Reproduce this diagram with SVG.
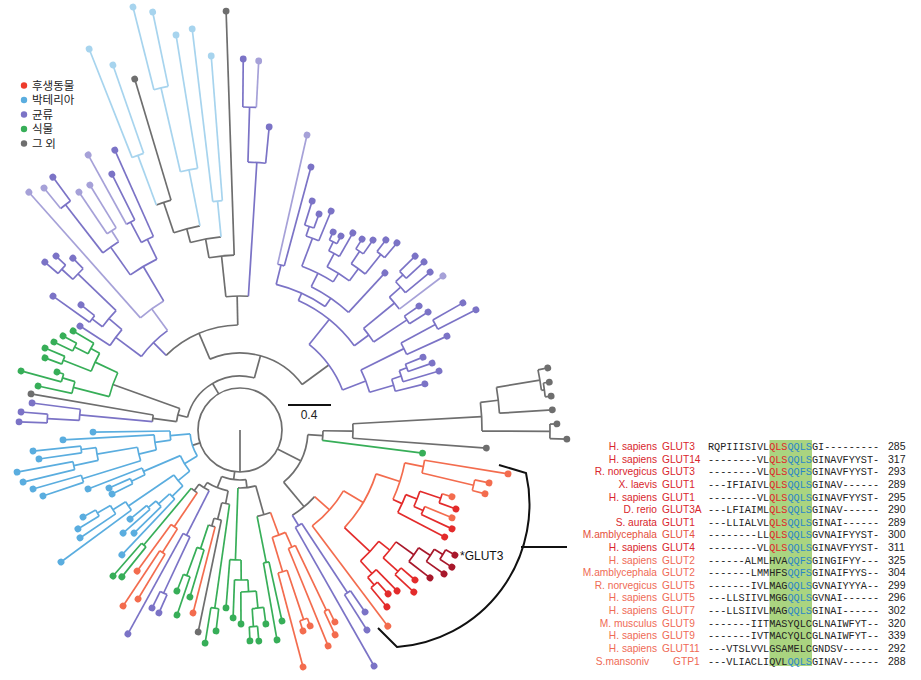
<svg xmlns="http://www.w3.org/2000/svg" width="921" height="680" viewBox="0 0 921 680">
<style>
.tr{stroke-width:1.7}
.tr path{fill:none}
.tr .a{fill:none}
.tr .d{stroke:none}
.gy{stroke:#6e6e6e;fill:#6e6e6e}
.g{stroke:#37ae58;fill:#37ae58}
.o{stroke:#f36c4e;fill:#f36c4e}
.r{stroke:#e32b2b;fill:#e32b2b}
.dr{stroke:#a8182b;fill:#a8182b}
.p{stroke:#7b73c6;fill:#7b73c6}
.lp{stroke:#a6a1d8;fill:#a6a1d8}
.bl{stroke:#5aaddf;fill:#5aaddf}
.lb{stroke:#a7d4ee;fill:#a7d4ee}
.nm{font-family:'Liberation Sans',Arial,sans-serif;font-size:10.2px}
.c1{fill:#d9262c}.c2{fill:#e5503c}.c3{fill:#ef6a55}
.sq{font-family:'Liberation Mono','DejaVu Sans Mono',monospace;font-size:10.2px;fill:#222}
.rd{fill:#e0242a}.bu{fill:#2a86c8}
.nu{font-family:'Liberation Sans',Arial,sans-serif;font-size:10.5px;fill:#222}
</style>
<rect width="921" height="680" fill="#fff"/>
<g id="legend" font-family="'Noto Sans CJK KR','Noto Sans',sans-serif" font-size="11.5" fill="#222">
<circle cx="24" cy="85.5" r="3.2" fill="#ee3b2c"/><text x="32" y="89.5">후생동물</text>
<circle cx="24" cy="100" r="3.2" fill="#5aaddf"/><text x="32" y="104">박테리아</text>
<circle cx="24" cy="114.5" r="3.2" fill="#7b73c6"/><text x="32" y="118.5">균류</text>
<circle cx="24" cy="129" r="3.2" fill="#37ae58"/><text x="32" y="133">식물</text>
<circle cx="24" cy="143.5" r="3.2" fill="#6e6e6e"/><text x="32" y="147.5">그 외</text>
</g>
<g id="tree" class="tr" transform="translate(240,430)">
<g id="backbone">
<circle class="gy a" r="42"/>
<path class="gy" d="M0 0H42" transform="rotate(90)"/>
<path class="gy" d="M42 0H68" transform="rotate(26.98)"/>
<path class="gy" d="M42 0H50" transform="rotate(97.3)"/>
<path class="gy" d="M42 0H50" transform="rotate(162.09)"/>
<path class="gy" d="M42 0H54" transform="rotate(239.5)"/>
</g>
<g id="clade-right">
<circle class="gy a" r="68" pathLength="360" stroke-dasharray="46.24 360" transform="rotate(3.86)"/>
<path class="gy" d="M68 0H83" transform="rotate(3.86)"/>
<path class="gy" d="M68 0H100" transform="rotate(50.1)"/>
<circle class="gy a" r="83" pathLength="360" stroke-dasharray="6.68 360" transform="rotate(0.52)"/>
<path class="gy" d="M83 0H113" transform="rotate(0.52)"/>
<g class="g" transform="rotate(7.2)"><path d="M83 0H184"/><circle class="d" cx="184" r="3.4"/></g>
<circle class="gy a" r="113" pathLength="360" stroke-dasharray="7.36 360" transform="rotate(-3.16)"/>
<path class="gy" d="M113 0H242" transform="rotate(-3.16)"/>
<g class="gy" transform="rotate(4.2)"><path d="M113 0H247"/><circle class="d" cx="247" r="3.4"/></g>
<circle class="gy a" r="242" pathLength="360" stroke-dasharray="6.825 360" transform="rotate(-6.575)"/>
<path class="gy" d="M242 0H260" transform="rotate(-6.575)"/>
<path class="gy" d="M242 0H310" transform="rotate(0.25)"/>
<circle class="gy a" r="260" pathLength="360" stroke-dasharray="5.75 360" transform="rotate(-9.45)"/>
<path class="gy" d="M260 0H304" transform="rotate(-9.45)"/>
<g class="gy" transform="rotate(-3.7)"><path d="M260 0H313"/><circle class="d" cx="313" r="3.4"/></g>
<circle class="gy a" r="304" pathLength="360" stroke-dasharray="3.9 360" transform="rotate(-11.4)"/>
<g class="gy" transform="rotate(-11.4)"><path d="M304 0H314"/><circle class="d" cx="314" r="3.4"/></g>
<path class="gy" d="M304 0H307" transform="rotate(-7.5)"/>
<circle class="gy a" r="307" pathLength="360" stroke-dasharray="2.6 360" transform="rotate(-8.8)"/>
<g class="gy" transform="rotate(-8.8)"><path d="M307 0H313"/><circle class="d" cx="313" r="3.4"/></g>
<g class="gy" transform="rotate(-6.2)"><path d="M307 0H313"/><circle class="d" cx="313" r="3.4"/></g>
<circle class="gy a" r="310" pathLength="360" stroke-dasharray="2.7 360" transform="rotate(-1.1)"/>
<g class="gy" transform="rotate(-1.1)"><path d="M310 0H317"/><circle class="d" cx="317" r="3.4"/></g>
<g class="gy" transform="rotate(1.6)"><path d="M310 0H327"/><circle class="d" cx="327" r="3.4"/></g>
</g>
<g id="clade-animal">
<circle class="gy a" r="100" pathLength="360" stroke-dasharray="16.75 360" transform="rotate(41.73)"/>
<path class="o" d="M100 0H120" transform="rotate(41.73)"/>
<path class="p" d="M100 0H112" transform="rotate(58.48)"/>
<circle class="o a" r="120" pathLength="360" stroke-dasharray="22.53 360" transform="rotate(30.47)"/>
<path class="o" d="M120 0H143" transform="rotate(30.47)"/>
<g class="o" transform="rotate(53)"><path d="M120 0H245.6"/><circle class="d" cx="245.6" r="3.4"/></g>
<circle class="o a" r="143" pathLength="360" stroke-dasharray="25.19 360" transform="rotate(17.87)"/>
<path class="o" d="M143 0H168" transform="rotate(17.87)"/>
<path class="r" d="M143 0H178" transform="rotate(43.06)"/>
<circle class="o a" r="168" pathLength="360" stroke-dasharray="13.14 360" transform="rotate(11.3)"/>
<path class="o" d="M168 0H187" transform="rotate(11.3)"/>
<path class="r" d="M168 0H178" transform="rotate(24.44)"/>
<circle class="o a" r="187" pathLength="360" stroke-dasharray="4 360" transform="rotate(9.3)"/>
<g class="o" transform="rotate(9.3)"><path d="M187 0H271.6"/><circle class="d" cx="271.6" r="3.4"/></g>
<path class="o" d="M187 0H240" transform="rotate(13.3)"/>
<circle class="o a" r="240" pathLength="360" stroke-dasharray="2.6 360" transform="rotate(12)"/>
<g class="o" transform="rotate(12)"><path d="M240 0H254.6"/><circle class="d" cx="254.6" r="3.4"/></g>
<g class="o" transform="rotate(14.6)"><path d="M240 0H253.2"/><circle class="d" cx="253.2" r="3.4"/></g>
<circle class="r a" r="178" pathLength="360" stroke-dasharray="6.325 360" transform="rotate(21.275)"/>
<path class="r" d="M178 0H190" transform="rotate(21.275)"/>
<g class="r" transform="rotate(27.6)"><path d="M178 0H231"/><circle class="d" cx="231" r="3.4"/></g>
<circle class="r a" r="190" pathLength="360" stroke-dasharray="4.95 360" transform="rotate(18.8)"/>
<path class="r" d="M190 0H212" transform="rotate(18.8)"/>
<path class="r" d="M190 0H200" transform="rotate(23.75)"/>
<circle class="r a" r="212" pathLength="360" stroke-dasharray="2.6 360" transform="rotate(17.5)"/>
<g class="o" transform="rotate(17.5)"><path d="M212 0H222.3"/><circle class="d" cx="222.3" r="3.4"/></g>
<g class="r" transform="rotate(20.1)"><path d="M212 0H230"/><circle class="d" cx="230" r="3.4"/></g>
<circle class="r a" r="200" pathLength="360" stroke-dasharray="2.5 360" transform="rotate(22.5)"/>
<g class="o" transform="rotate(22.5)"><path d="M200 0H229.5"/><circle class="d" cx="229.5" r="3.4"/></g>
<g class="r" transform="rotate(25)"><path d="M200 0H234"/><circle class="d" cx="234" r="3.4"/></g>
<circle class="r a" r="178" pathLength="360" stroke-dasharray="8.68 360" transform="rotate(38.72)"/>
<path class="r" d="M178 0H192" transform="rotate(38.72)"/>
<path class="r" d="M178 0H195" transform="rotate(47.4)"/>
<circle class="r a" r="192" pathLength="360" stroke-dasharray="6.16 360" transform="rotate(35.64)"/>
<path class="dr" d="M192 0H214" transform="rotate(35.64)"/>
<path class="r" d="M192 0H212" transform="rotate(41.8)"/>
<circle class="dr a" r="214" pathLength="360" stroke-dasharray="4.525 360" transform="rotate(33.375)"/>
<path class="dr" d="M214 0H228" transform="rotate(33.375)"/>
<g class="dr" transform="rotate(37.9)"><path d="M214 0H240.8"/><circle class="d" cx="240.8" r="3.4"/></g>
<circle class="dr a" r="228" pathLength="360" stroke-dasharray="3.65 360" transform="rotate(31.55)"/>
<path class="dr" d="M228 0H238" transform="rotate(31.55)"/>
<g class="dr" transform="rotate(35.2)"><path d="M228 0H249.7"/><circle class="d" cx="249.7" r="3.4"/></g>
<circle class="dr a" r="238" pathLength="360" stroke-dasharray="2.7 360" transform="rotate(30.2)"/>
<g class="dr" transform="rotate(30.2)"><path d="M238 0H248.7"/><circle class="d" cx="248.7" r="3.4"/></g>
<g class="dr" transform="rotate(32.9)"><path d="M238 0H252.4"/><circle class="d" cx="252.4" r="3.4"/></g>
<circle class="r a" r="212" pathLength="360" stroke-dasharray="2.4 360" transform="rotate(40.6)"/>
<g class="r" transform="rotate(40.6)"><path d="M212 0H230.5"/><circle class="d" cx="230.5" r="3.4"/></g>
<g class="r" transform="rotate(43)"><path d="M212 0H237.7"/><circle class="d" cx="237.7" r="3.4"/></g>
<circle class="r a" r="195" pathLength="360" stroke-dasharray="3.4 360" transform="rotate(45.7)"/>
<g class="r" transform="rotate(45.7)"><path d="M195 0H224.9"/><circle class="d" cx="224.9" r="3.4"/></g>
<path class="r" d="M195 0H205" transform="rotate(49.1)"/>
<circle class="r a" r="205" pathLength="360" stroke-dasharray="2.4 360" transform="rotate(47.9)"/>
<g class="r" transform="rotate(47.9)"><path d="M205 0H220.9"/><circle class="d" cx="220.9" r="3.4"/></g>
<g class="r" transform="rotate(50.3)"><path d="M205 0H230"/><circle class="d" cx="230" r="3.4"/></g>
<circle class="p a" r="112" pathLength="360" stroke-dasharray="3.85 360" transform="rotate(56.55)"/>
<path class="p" d="M112 0H195" transform="rotate(56.55)"/>
<g class="p" transform="rotate(60.4)"><path d="M112 0H271.4"/><circle class="d" cx="271.4" r="3.4"/></g>
<circle class="p a" r="195" pathLength="360" stroke-dasharray="2.1 360" transform="rotate(55.5)"/>
<g class="p" transform="rotate(55.5)"><path d="M195 0H220.8"/><circle class="d" cx="220.8" r="3.4"/></g>
<g class="p" transform="rotate(57.6)"><path d="M195 0H236.9"/><circle class="d" cx="236.9" r="3.4"/></g>
</g>
<g id="clade-bottom">
<circle class="gy a" r="50" pathLength="360" stroke-dasharray="28.37 360" transform="rotate(83.13)"/>
<path class="gy" d="M50 0H58" transform="rotate(83.13)"/>
<path class="gy" d="M50 0H62" transform="rotate(111.5)"/>
<circle class="gy a" r="58" pathLength="360" stroke-dasharray="17.77 360" transform="rotate(74.25)"/>
<path class="gy" d="M58 0H88" transform="rotate(74.25)"/>
<path class="g" d="M58 0H130" transform="rotate(92.02)"/>
<circle class="gy a" r="88" pathLength="360" stroke-dasharray="9.11 360" transform="rotate(69.69)"/>
<path class="o" d="M88 0H112" transform="rotate(69.69)"/>
<path class="g" d="M88 0H135" transform="rotate(78.8)"/>
<circle class="o a" r="112" pathLength="360" stroke-dasharray="7.175 360" transform="rotate(66.1)"/>
<path class="o" d="M112 0H128" transform="rotate(66.1)"/>
<path class="o" d="M112 0H148" transform="rotate(73.275)"/>
<circle class="o a" r="128" pathLength="360" stroke-dasharray="3.4 360" transform="rotate(64.4)"/>
<path class="o" d="M128 0H200" transform="rotate(64.4)"/>
<g class="o" transform="rotate(67.8)"><path d="M128 0H233.2"/><circle class="d" cx="233.2" r="3.4"/></g>
<circle class="o a" r="200" pathLength="360" stroke-dasharray="1.4 360" transform="rotate(63.7)"/>
<g class="o" transform="rotate(63.7)"><path d="M200 0H214.2"/><circle class="d" cx="214.2" r="3.4"/></g>
<g class="o" transform="rotate(65.1)"><path d="M200 0H225.9"/><circle class="d" cx="225.9" r="3.4"/></g>
<circle class="o a" r="148" pathLength="360" stroke-dasharray="3.65 360" transform="rotate(71.45)"/>
<path class="o" d="M148 0H200" transform="rotate(71.45)"/>
<g class="o" transform="rotate(75.1)"><path d="M148 0H245.2"/><circle class="d" cx="245.2" r="3.4"/></g>
<circle class="o a" r="200" pathLength="360" stroke-dasharray="2.3 360" transform="rotate(70.3)"/>
<g class="o" transform="rotate(70.3)"><path d="M200 0H208.1"/><circle class="d" cx="208.1" r="3.4"/></g>
<g class="o" transform="rotate(72.6)"><path d="M200 0H210.6"/><circle class="d" cx="210.6" r="3.4"/></g>
<circle class="g a" r="135" pathLength="360" stroke-dasharray="2.4 360" transform="rotate(77.6)"/>
<g class="g" transform="rotate(77.6)"><path d="M135 0H195.6"/><circle class="d" cx="195.6" r="3.4"/></g>
<g class="g" transform="rotate(80)"><path d="M135 0H213.2"/><circle class="d" cx="213.2" r="3.4"/></g>
<circle class="g a" r="130" pathLength="360" stroke-dasharray="4.96 360" transform="rotate(89.54)"/>
<path class="g" d="M130 0H150" transform="rotate(89.54)"/>
<g class="g" transform="rotate(94.5)"><path d="M130 0H178.5"/><circle class="d" cx="178.5" r="3.4"/></g>
<circle class="g a" r="150" pathLength="360" stroke-dasharray="5.125 360" transform="rotate(86.975)"/>
<path class="g" d="M150 0H162" transform="rotate(86.975)"/>
<g class="g" transform="rotate(92.1)"><path d="M150 0H188.1"/><circle class="d" cx="188.1" r="3.4"/></g>
<circle class="g a" r="162" pathLength="360" stroke-dasharray="5.45 360" transform="rotate(84.25)"/>
<path class="g" d="M162 0H179" transform="rotate(84.25)"/>
<g class="g" transform="rotate(89.7)"><path d="M162 0H194"/><circle class="d" cx="194" r="3.4"/></g>
<circle class="g a" r="179" pathLength="360" stroke-dasharray="3.7 360" transform="rotate(82.4)"/>
<g class="g" transform="rotate(82.4)"><path d="M179 0H195.7"/><circle class="d" cx="195.7" r="3.4"/></g>
<path class="g" d="M179 0H197" transform="rotate(86.1)"/>
<circle class="g a" r="197" pathLength="360" stroke-dasharray="2.4 360" transform="rotate(84.9)"/>
<g class="g" transform="rotate(84.9)"><path d="M197 0H211.9"/><circle class="d" cx="211.9" r="3.4"/></g>
<g class="g" transform="rotate(87.3)"><path d="M197 0H211.2"/><circle class="d" cx="211.2" r="3.4"/></g>
<circle class="gy a" r="62" pathLength="360" stroke-dasharray="20.95 360" transform="rotate(101.05)"/>
<path class="gy" d="M62 0H75" transform="rotate(101.05)"/>
<path class="gy" d="M62 0H68" transform="rotate(122)"/>
<circle class="gy a" r="75" pathLength="360" stroke-dasharray="6 360" transform="rotate(98.05)"/>
<path class="g" d="M75 0H180" transform="rotate(98.05)"/>
<path class="gy" d="M75 0H92" transform="rotate(104.05)"/>
<circle class="g a" r="180" pathLength="360" stroke-dasharray="2.5 360" transform="rotate(96.8)"/>
<g class="g" transform="rotate(96.8)"><path d="M180 0H202.4"/><circle class="d" cx="202.4" r="3.4"/></g>
<g class="g" transform="rotate(99.3)"><path d="M180 0H215.9"/><circle class="d" cx="215.9" r="3.4"/></g>
<circle class="gy a" r="92" pathLength="360" stroke-dasharray="4.7 360" transform="rotate(101.7)"/>
<g class="gy" transform="rotate(101.7)"><path d="M92 0H206.3"/><circle class="d" cx="206.3" r="3.4"/></g>
<path class="gy" d="M92 0H100" transform="rotate(106.4)"/>
<circle class="gy a" r="100" pathLength="360" stroke-dasharray="4 360" transform="rotate(104.4)"/>
<g class="o" transform="rotate(104.4)"><path d="M100 0H188.9"/><circle class="d" cx="188.9" r="3.4"/></g>
<path class="g" d="M100 0H125" transform="rotate(108.4)"/>
<circle class="g a" r="125" pathLength="360" stroke-dasharray="3.4 360" transform="rotate(106.7)"/>
<g class="g" transform="rotate(106.7)"><path d="M125 0H174.3"/><circle class="d" cx="174.3" r="3.4"/></g>
<path class="g" d="M125 0H155" transform="rotate(110.1)"/>
<circle class="g a" r="155" pathLength="360" stroke-dasharray="2.6 360" transform="rotate(108.8)"/>
<g class="g" transform="rotate(108.8)"><path d="M155 0H195.4"/><circle class="d" cx="195.4" r="3.4"/></g>
<g class="g" transform="rotate(111.4)"><path d="M155 0H172.9"/><circle class="d" cx="172.9" r="3.4"/></g>
<circle class="gy a" r="68" pathLength="360" stroke-dasharray="10.11 360" transform="rotate(116.95)"/>
<path class="p" d="M68 0H118" transform="rotate(116.95)"/>
<path class="gy" d="M68 0H76" transform="rotate(127.06)"/>
<circle class="p a" r="118" pathLength="360" stroke-dasharray="3.7 360" transform="rotate(115.1)"/>
<path class="p" d="M118 0H180" transform="rotate(115.1)"/>
<g class="p" transform="rotate(118.8)"><path d="M118 0H232.7"/><circle class="d" cx="232.7" r="3.4"/></g>
<circle class="p a" r="180" pathLength="360" stroke-dasharray="2.4 360" transform="rotate(113.9)"/>
<g class="p" transform="rotate(113.9)"><path d="M180 0H200.1"/><circle class="d" cx="200.1" r="3.4"/></g>
<g class="p" transform="rotate(116.3)"><path d="M180 0H198.6"/><circle class="d" cx="198.6" r="3.4"/></g>
<circle class="gy a" r="76" pathLength="360" stroke-dasharray="5.67 360" transform="rotate(124.23)"/>
<path class="o" d="M76 0H117" transform="rotate(124.23)"/>
<path class="g" d="M76 0H150" transform="rotate(129.9)"/>
<circle class="o a" r="117" pathLength="360" stroke-dasharray="3.75 360" transform="rotate(122.35)"/>
<path class="o" d="M117 0H145" transform="rotate(122.35)"/>
<g class="o" transform="rotate(126.1)"><path d="M117 0H174.6"/><circle class="d" cx="174.6" r="3.4"/></g>
<circle class="o a" r="145" pathLength="360" stroke-dasharray="2.5 360" transform="rotate(121.1)"/>
<g class="o" transform="rotate(121.1)"><path d="M145 0H197.4"/><circle class="d" cx="197.4" r="3.4"/></g>
<g class="o" transform="rotate(123.6)"><path d="M145 0H211.3"/><circle class="d" cx="211.3" r="3.4"/></g>
<circle class="g a" r="150" pathLength="360" stroke-dasharray="2.2 360" transform="rotate(128.8)"/>
<g class="g" transform="rotate(128.8)"><path d="M150 0H188.5"/><circle class="d" cx="188.5" r="3.4"/></g>
<g class="g" transform="rotate(131)"><path d="M150 0H193.5"/><circle class="d" cx="193.5" r="3.4"/></g>
</g>
<g id="clade-bacteria">
<circle class="bl a" r="50" pathLength="360" stroke-dasharray="26.72 360" transform="rotate(148.73)"/>
<path class="bl" d="M50 0H65" transform="rotate(148.73)"/>
<path class="bl" d="M50 0H70" transform="rotate(175.45)"/>
<circle class="bl a" r="65" pathLength="360" stroke-dasharray="16.1 360" transform="rotate(140.68)"/>
<path class="bl" d="M65 0H80" transform="rotate(140.68)"/>
<path class="bl" d="M65 0H105" transform="rotate(156.78)"/>
<circle class="bl a" r="80" pathLength="360" stroke-dasharray="10.15 360" transform="rotate(135.6)"/>
<path class="bl" d="M80 0H95" transform="rotate(135.6)"/>
<path class="bl" d="M80 0H135" transform="rotate(145.75)"/>
<circle class="bl a" r="95" pathLength="360" stroke-dasharray="4.4 360" transform="rotate(133.4)"/>
<g class="bl" transform="rotate(133.4)"><path d="M95 0H171.9"/><circle class="d" cx="171.9" r="3.4"/></g>
<path class="bl" d="M95 0H110" transform="rotate(137.8)"/>
<circle class="bl a" r="110" pathLength="360" stroke-dasharray="4 360" transform="rotate(135.8)"/>
<g class="bl" transform="rotate(135.8)"><path d="M110 0H147.8"/><circle class="d" cx="147.8" r="3.4"/></g>
<path class="bl" d="M110 0H120" transform="rotate(139.8)"/>
<circle class="bl a" r="120" pathLength="360" stroke-dasharray="2.4 360" transform="rotate(138.6)"/>
<g class="bl" transform="rotate(138.6)"><path d="M120 0H155.9"/><circle class="d" cx="155.9" r="3.4"/></g>
<g class="bl" transform="rotate(141)"><path d="M120 0H141.5"/><circle class="d" cx="141.5" r="3.4"/></g>
<circle class="bl a" r="135" pathLength="360" stroke-dasharray="4.3 360" transform="rotate(143.6)"/>
<g class="bl" transform="rotate(143.6)"><path d="M135 0H222.4"/><circle class="d" cx="222.4" r="3.4"/></g>
<path class="bl" d="M135 0H150" transform="rotate(147.9)"/>
<circle class="bl a" r="150" pathLength="360" stroke-dasharray="3.8 360" transform="rotate(146)"/>
<g class="bl" transform="rotate(146)"><path d="M150 0H193"/><circle class="d" cx="193" r="3.4"/></g>
<path class="bl" d="M150 0H165" transform="rotate(149.8)"/>
<circle class="bl a" r="165" pathLength="360" stroke-dasharray="2.4 360" transform="rotate(148.6)"/>
<g class="bl" transform="rotate(148.6)"><path d="M165 0H189.9"/><circle class="d" cx="189.9" r="3.4"/></g>
<g class="bl" transform="rotate(151)"><path d="M165 0H179.5"/><circle class="d" cx="179.5" r="3.4"/></g>
<circle class="bl a" r="105" pathLength="360" stroke-dasharray="4.05 360" transform="rotate(154.75)"/>
<path class="bl" d="M105 0H120" transform="rotate(154.75)"/>
<g class="bl" transform="rotate(158.8)"><path d="M105 0H163"/><circle class="d" cx="163" r="3.4"/></g>
<circle class="bl a" r="120" pathLength="360" stroke-dasharray="2.7 360" transform="rotate(153.4)"/>
<g class="bl" transform="rotate(153.4)"><path d="M120 0H143.1"/><circle class="d" cx="143.1" r="3.4"/></g>
<g class="bl" transform="rotate(156.1)"><path d="M120 0H143.3"/><circle class="d" cx="143.3" r="3.4"/></g>
<circle class="bl a" r="70" pathLength="360" stroke-dasharray="7.5 360" transform="rotate(171.7)"/>
<path class="bl" d="M70 0H86" transform="rotate(171.7)"/>
<g class="bl" transform="rotate(179.2)"><path d="M70 0H147"/><circle class="d" cx="147" r="3.4"/></g>
<circle class="bl a" r="86" pathLength="360" stroke-dasharray="10.17 360" transform="rotate(166.63)"/>
<path class="bl" d="M86 0H104" transform="rotate(166.63)"/>
<g class="bl" transform="rotate(176.8)"><path d="M86 0H177.3"/><circle class="d" cx="177.3" r="3.4"/></g>
<circle class="bl a" r="104" pathLength="360" stroke-dasharray="7.65 360" transform="rotate(162.8)"/>
<path class="bl" d="M104 0H165" transform="rotate(162.8)"/>
<path class="bl" d="M104 0H145" transform="rotate(170.45)"/>
<circle class="bl a" r="165" pathLength="360" stroke-dasharray="2.6 360" transform="rotate(161.5)"/>
<g class="bl" transform="rotate(161.5)"><path d="M165 0H207.8"/><circle class="d" cx="207.8" r="3.4"/></g>
<g class="bl" transform="rotate(164.1)"><path d="M165 0H215.2"/><circle class="d" cx="215.2" r="3.4"/></g>
<circle class="bl a" r="145" pathLength="360" stroke-dasharray="5.1 360" transform="rotate(167.9)"/>
<path class="bl" d="M145 0H170" transform="rotate(167.9)"/>
<path class="bl" d="M145 0H160" transform="rotate(173)"/>
<circle class="bl a" r="170" pathLength="360" stroke-dasharray="2.8 360" transform="rotate(166.5)"/>
<g class="bl" transform="rotate(166.5)"><path d="M170 0H223.1"/><circle class="d" cx="223.1" r="3.4"/></g>
<g class="bl" transform="rotate(169.3)"><path d="M170 0H226.9"/><circle class="d" cx="226.9" r="3.4"/></g>
<circle class="bl a" r="160" pathLength="360" stroke-dasharray="2.4 360" transform="rotate(171.8)"/>
<g class="bl" transform="rotate(171.8)"><path d="M160 0H203.1"/><circle class="d" cx="203.1" r="3.4"/></g>
<g class="bl" transform="rotate(174.2)"><path d="M160 0H208.1"/><circle class="d" cx="208.1" r="3.4"/></g>
</g>
<g id="clade-left">
<circle class="gy a" r="54" pathLength="360" stroke-dasharray="91.77 360" transform="rotate(193.65)"/>
<path class="gy" d="M54 0H64" transform="rotate(193.65)"/>
<path class="gy" d="M54 0H77" transform="rotate(285.42)"/>
<circle class="gy a" r="64" pathLength="360" stroke-dasharray="12.1 360" transform="rotate(187.6)"/>
<path class="gy" d="M64 0H88" transform="rotate(187.6)"/>
<path class="gy" d="M64 0H135" transform="rotate(199.7)"/>
<circle class="gy a" r="88" pathLength="360" stroke-dasharray="4.4 360" transform="rotate(185.4)"/>
<path class="p" d="M88 0H161" transform="rotate(185.4)"/>
<g class="gy" transform="rotate(189.8)"><path d="M88 0H212.1"/><circle class="d" cx="212.1" r="3.4"/></g>
<circle class="p a" r="161" pathLength="360" stroke-dasharray="4 360" transform="rotate(183.4)"/>
<path class="p" d="M161 0H193" transform="rotate(183.4)"/>
<g class="p" transform="rotate(187.4)"><path d="M161 0H209.7"/><circle class="d" cx="209.7" r="3.4"/></g>
<circle class="p a" r="193" pathLength="360" stroke-dasharray="2.6 360" transform="rotate(182.1)"/>
<g class="p" transform="rotate(182.1)"><path d="M193 0H221.1"/><circle class="d" cx="221.1" r="3.4"/></g>
<g class="p" transform="rotate(184.7)"><path d="M193 0H219.7"/><circle class="d" cx="219.7" r="3.4"/></g>
<circle class="g a" r="135" pathLength="360" stroke-dasharray="10.77 360" transform="rotate(194.33)"/>
<path class="g" d="M135 0H172" transform="rotate(194.33)"/>
<path class="g" d="M135 0H160" transform="rotate(205.1)"/>
<circle class="g a" r="172" pathLength="360" stroke-dasharray="4.05 360" transform="rotate(192.3)"/>
<g class="g" transform="rotate(192.3)"><path d="M172 0H206.7"/><circle class="d" cx="206.7" r="3.4"/></g>
<path class="g" d="M172 0H185" transform="rotate(196.35)"/>
<circle class="g a" r="185" pathLength="360" stroke-dasharray="2.5 360" transform="rotate(195.1)"/>
<g class="g" transform="rotate(195.1)"><path d="M185 0H226.8"/><circle class="d" cx="226.8" r="3.4"/></g>
<g class="g" transform="rotate(197.6)"><path d="M185 0H192"/><circle class="d" cx="192" r="3.4"/></g>
<circle class="g a" r="160" pathLength="360" stroke-dasharray="7.13 360" transform="rotate(201.55)"/>
<path class="g" d="M160 0H190" transform="rotate(201.55)"/>
<path class="g" d="M160 0H170" transform="rotate(208.68)"/>
<circle class="g a" r="190" pathLength="360" stroke-dasharray="2.5 360" transform="rotate(200.3)"/>
<g class="g" transform="rotate(200.3)"><path d="M190 0H207.9"/><circle class="d" cx="207.9" r="3.4"/></g>
<g class="g" transform="rotate(202.8)"><path d="M190 0H211.5"/><circle class="d" cx="211.5" r="3.4"/></g>
<circle class="g a" r="170" pathLength="360" stroke-dasharray="4.05 360" transform="rotate(206.65)"/>
<path class="g" d="M170 0H185" transform="rotate(206.65)"/>
<g class="g" transform="rotate(210.7)"><path d="M170 0H194.1"/><circle class="d" cx="194.1" r="3.4"/></g>
<circle class="g a" r="185" pathLength="360" stroke-dasharray="2.7 360" transform="rotate(205.3)"/>
<g class="g" transform="rotate(205.3)"><path d="M185 0H205.8"/><circle class="d" cx="205.8" r="3.4"/></g>
<g class="g" transform="rotate(208)"><path d="M185 0H200.4"/><circle class="d" cx="200.4" r="3.4"/></g>
</g>
<g id="clade-upper-left">
<circle class="gy a" r="77" pathLength="360" stroke-dasharray="76.76 360" transform="rotate(247.04)"/>
<path class="gy" d="M77 0H105" transform="rotate(247.04)"/>
<path class="gy" d="M77 0H110" transform="rotate(323.8)"/>
<circle class="gy a" r="105" pathLength="360" stroke-dasharray="43.48 360" transform="rotate(225.3)"/>
<path class="p" d="M105 0H123" transform="rotate(225.3)"/>
<path class="gy" d="M105 0H134" transform="rotate(268.78)"/>
<circle class="p a" r="123" pathLength="360" stroke-dasharray="17.2 360" transform="rotate(216.7)"/>
<path class="p" d="M123 0H155" transform="rotate(216.7)"/>
<path class="lp" d="M123 0H150" transform="rotate(233.9)"/>
<circle class="p a" r="155" pathLength="360" stroke-dasharray="7.4 360" transform="rotate(213)"/>
<g class="p" transform="rotate(213)"><path d="M155 0H190.8"/><circle class="d" cx="190.8" r="3.4"/></g>
<path class="p" d="M155 0H172" transform="rotate(220.4)"/>
<circle class="p a" r="172" pathLength="360" stroke-dasharray="7.03 360" transform="rotate(216.9)"/>
<path class="p" d="M172 0H185" transform="rotate(216.9)"/>
<path class="p" d="M172 0H225" transform="rotate(223.93)"/>
<circle class="p a" r="185" pathLength="360" stroke-dasharray="2.6 360" transform="rotate(215.6)"/>
<g class="p" transform="rotate(215.6)"><path d="M185 0H230"/><circle class="d" cx="230" r="3.4"/></g>
<g class="p" transform="rotate(218.2)"><path d="M185 0H202.3"/><circle class="d" cx="202.3" r="3.4"/></g>
<circle class="p a" r="225" pathLength="360" stroke-dasharray="3.75 360" transform="rotate(222.05)"/>
<path class="p" d="M225 0H240" transform="rotate(222.05)"/>
<g class="p" transform="rotate(225.8)"><path d="M225 0H239.7"/><circle class="d" cx="239.7" r="3.4"/></g>
<circle class="p a" r="240" pathLength="360" stroke-dasharray="2.7 360" transform="rotate(220.7)"/>
<g class="p" transform="rotate(220.7)"><path d="M240 0H257.4"/><circle class="d" cx="257.4" r="3.4"/></g>
<g class="p" transform="rotate(223.4)"><path d="M240 0H253.2"/><circle class="d" cx="253.2" r="3.4"/></g>
<circle class="lp a" r="150" pathLength="360" stroke-dasharray="11 360" transform="rotate(228.4)"/>
<g class="lp" transform="rotate(228.4)"><path d="M150 0H318"/><circle class="d" cx="318" r="3.4"/></g>
<path class="p" d="M150 0H190" transform="rotate(239.4)"/>
<circle class="p a" r="190" pathLength="360" stroke-dasharray="9.35 360" transform="rotate(234.73)"/>
<path class="p" d="M190 0H224" transform="rotate(234.73)"/>
<path class="p" d="M190 0H212" transform="rotate(244.08)"/>
<circle class="p a" r="224" pathLength="360" stroke-dasharray="4.95 360" transform="rotate(232.25)"/>
<path class="p" d="M224 0H285" transform="rotate(232.25)"/>
<path class="lp" d="M224 0H237" transform="rotate(237.2)"/>
<circle class="p a" r="285" pathLength="360" stroke-dasharray="2.5 360" transform="rotate(231)"/>
<g class="lp" transform="rotate(231)"><path d="M285 0H311.4"/><circle class="d" cx="311.4" r="3.4"/></g>
<g class="p" transform="rotate(233.5)"><path d="M285 0H314.6"/><circle class="d" cx="314.6" r="3.4"/></g>
<circle class="lp a" r="237" pathLength="360" stroke-dasharray="2.6 360" transform="rotate(235.9)"/>
<g class="lp" transform="rotate(235.9)"><path d="M237 0H287.3"/><circle class="d" cx="287.3" r="3.4"/></g>
<g class="lp" transform="rotate(238.5)"><path d="M237 0H287.3"/><circle class="d" cx="287.3" r="3.4"/></g>
<circle class="p a" r="212" pathLength="360" stroke-dasharray="3.65 360" transform="rotate(242.25)"/>
<path class="p" d="M212 0H235" transform="rotate(242.25)"/>
<g class="p" transform="rotate(245.9)"><path d="M212 0H306.6"/><circle class="d" cx="306.6" r="3.4"/></g>
<circle class="p a" r="235" pathLength="360" stroke-dasharray="2.3 360" transform="rotate(241.1)"/>
<g class="lp" transform="rotate(241.1)"><path d="M235 0H314.2"/><circle class="d" cx="314.2" r="3.4"/></g>
<g class="p" transform="rotate(243.4)"><path d="M235 0H286.2"/><circle class="d" cx="286.2" r="3.4"/></g>
</g>
<g id="clade-top">
<circle class="gy a" r="134" pathLength="360" stroke-dasharray="9.65 360" transform="rotate(263.95)"/>
<path class="gy" d="M134 0H175" transform="rotate(263.95)"/>
<path class="p" d="M134 0H268" transform="rotate(273.6)"/>
<circle class="gy a" r="175" pathLength="360" stroke-dasharray="8.31 360" transform="rotate(259.79)"/>
<path class="gy" d="M175 0H194" transform="rotate(259.79)"/>
<g class="gy" transform="rotate(268.1)"><path d="M175 0H419.2"/><circle class="d" cx="419.2" r="3.4"/></g>
<circle class="gy a" r="194" pathLength="360" stroke-dasharray="9.22 360" transform="rotate(255.18)"/>
<path class="gy" d="M194 0H208" transform="rotate(255.18)"/>
<path class="lb" d="M194 0H230" transform="rotate(264.4)"/>
<circle class="gy a" r="208" pathLength="360" stroke-dasharray="7.45 360" transform="rotate(251.45)"/>
<path class="gy" d="M208 0H240" transform="rotate(251.45)"/>
<path class="lb" d="M208 0H265" transform="rotate(258.9)"/>
<circle class="gy a" r="240" pathLength="360" stroke-dasharray="3.7 360" transform="rotate(249.6)"/>
<path class="lb" d="M240 0H293" transform="rotate(249.6)"/>
<g class="gy" transform="rotate(253.3)"><path d="M240 0H366.4"/><circle class="d" cx="366.4" r="3.4"/></g>
<circle class="lb a" r="293" pathLength="360" stroke-dasharray="2.4 360" transform="rotate(248.4)"/>
<g class="lb" transform="rotate(248.4)"><path d="M293 0H409.8"/><circle class="d" cx="409.8" r="3.4"/></g>
<g class="lb" transform="rotate(250.8)"><path d="M293 0H386.5"/><circle class="d" cx="386.5" r="3.4"/></g>
<circle class="lb a" r="265" pathLength="360" stroke-dasharray="3.8 360" transform="rotate(257)"/>
<path class="lb" d="M265 0H351" transform="rotate(257)"/>
<g class="lb" transform="rotate(260.8)"><path d="M265 0H400.2"/><circle class="d" cx="400.2" r="3.4"/></g>
<circle class="lb a" r="351" pathLength="360" stroke-dasharray="2.4 360" transform="rotate(255.8)"/>
<g class="lb" transform="rotate(255.8)"><path d="M351 0H436.3"/><circle class="d" cx="436.3" r="3.4"/></g>
<g class="lb" transform="rotate(258.2)"><path d="M351 0H427"/><circle class="d" cx="427" r="3.4"/></g>
<circle class="lb a" r="230" pathLength="360" stroke-dasharray="2.4 360" transform="rotate(263.2)"/>
<g class="lb" transform="rotate(263.2)"><path d="M230 0H403.9"/><circle class="d" cx="403.9" r="3.4"/></g>
<g class="lb" transform="rotate(265.6)"><path d="M230 0H375.1"/><circle class="d" cx="375.1" r="3.4"/></g>
<circle class="p a" r="268" pathLength="360" stroke-dasharray="3.8 360" transform="rotate(271.7)"/>
<path class="p" d="M268 0H323" transform="rotate(271.7)"/>
<g class="p" transform="rotate(275.5)"><path d="M268 0H304.4"/><circle class="d" cx="304.4" r="3.4"/></g>
<circle class="p a" r="323" pathLength="360" stroke-dasharray="2.4 360" transform="rotate(270.5)"/>
<g class="p" transform="rotate(270.5)"><path d="M323 0H371"/><circle class="d" cx="371" r="3.4"/></g>
<g class="lp" transform="rotate(272.9)"><path d="M323 0H369.5"/><circle class="d" cx="369.5" r="3.4"/></g>
</g>
<g id="clade-upper-right">
<circle class="p a" r="110" pathLength="360" stroke-dasharray="29.77 360" transform="rotate(308.93)"/>
<path class="p" d="M110 0H142" transform="rotate(308.93)"/>
<path class="p" d="M110 0H135" transform="rotate(338.7)"/>
<circle class="p a" r="142" pathLength="360" stroke-dasharray="29.34 360" transform="rotate(294.26)"/>
<path class="p" d="M142 0H150" transform="rotate(294.26)"/>
<path class="p" d="M142 0H160" transform="rotate(323.6)"/>
<circle class="p a" r="150" pathLength="360" stroke-dasharray="20.62 360" transform="rotate(283.95)"/>
<path class="p" d="M150 0H170" transform="rotate(283.95)"/>
<path class="p" d="M150 0H160" transform="rotate(304.57)"/>
<circle class="p a" r="170" pathLength="360" stroke-dasharray="2.3 360" transform="rotate(282.8)"/>
<g class="lp" transform="rotate(282.8)"><path d="M170 0H302.5"/><circle class="d" cx="302.5" r="3.4"/></g>
<g class="p" transform="rotate(285.1)"><path d="M170 0H272.4"/><circle class="d" cx="272.4" r="3.4"/></g>
<circle class="p a" r="160" pathLength="360" stroke-dasharray="16.26 360" transform="rotate(296.44)"/>
<path class="p" d="M160 0H175" transform="rotate(296.44)"/>
<g class="p" transform="rotate(312.7)"><path d="M160 0H213.7"/><circle class="d" cx="213.7" r="3.4"/></g>
<circle class="p a" r="175" pathLength="360" stroke-dasharray="11.48 360" transform="rotate(290.7)"/>
<path class="p" d="M175 0H205" transform="rotate(290.7)"/>
<path class="p" d="M175 0H185" transform="rotate(302.18)"/>
<circle class="p a" r="205" pathLength="360" stroke-dasharray="3.8 360" transform="rotate(288.8)"/>
<path class="p" d="M205 0H215" transform="rotate(288.8)"/>
<g class="p" transform="rotate(292.6)"><path d="M205 0H237.2"/><circle class="d" cx="237.2" r="3.4"/></g>
<circle class="p a" r="215" pathLength="360" stroke-dasharray="2.6 360" transform="rotate(287.5)"/>
<g class="p" transform="rotate(287.5)"><path d="M215 0H240"/><circle class="d" cx="240" r="3.4"/></g>
<g class="p" transform="rotate(290.1)"><path d="M215 0H230"/><circle class="d" cx="230" r="3.4"/></g>
<circle class="p a" r="185" pathLength="360" stroke-dasharray="8.2 360" transform="rotate(298.08)"/>
<path class="p" d="M185 0H200" transform="rotate(298.08)"/>
<path class="p" d="M185 0H200" transform="rotate(306.28)"/>
<circle class="p a" r="200" pathLength="360" stroke-dasharray="3.45 360" transform="rotate(296.35)"/>
<path class="p" d="M200 0H210" transform="rotate(296.35)"/>
<g class="p" transform="rotate(299.8)"><path d="M200 0H227.1"/><circle class="d" cx="227.1" r="3.4"/></g>
<circle class="p a" r="210" pathLength="360" stroke-dasharray="2.3 360" transform="rotate(295.2)"/>
<g class="p" transform="rotate(295.2)"><path d="M210 0H218.8"/><circle class="d" cx="218.8" r="3.4"/></g>
<g class="p" transform="rotate(297.5)"><path d="M210 0H218.7"/><circle class="d" cx="218.7" r="3.4"/></g>
<circle class="p a" r="200" pathLength="360" stroke-dasharray="4.95 360" transform="rotate(303.8)"/>
<path class="p" d="M200 0H215" transform="rotate(303.8)"/>
<path class="p" d="M200 0H225" transform="rotate(308.75)"/>
<circle class="p a" r="215" pathLength="360" stroke-dasharray="2.4 360" transform="rotate(302.6)"/>
<g class="p" transform="rotate(302.6)"><path d="M215 0H226.6"/><circle class="d" cx="226.6" r="3.4"/></g>
<g class="p" transform="rotate(305)"><path d="M215 0H231.9"/><circle class="d" cx="231.9" r="3.4"/></g>
<circle class="p a" r="225" pathLength="360" stroke-dasharray="2.5 360" transform="rotate(307.5)"/>
<g class="p" transform="rotate(307.5)"><path d="M225 0H239.6"/><circle class="d" cx="239.6" r="3.4"/></g>
<g class="p" transform="rotate(310)"><path d="M225 0H244.2"/><circle class="d" cx="244.2" r="3.4"/></g>
<circle class="p a" r="160" pathLength="360" stroke-dasharray="6.02 360" transform="rotate(320.58)"/>
<path class="p" d="M160 0H200" transform="rotate(320.58)"/>
<path class="p" d="M160 0H200" transform="rotate(326.6)"/>
<circle class="p a" r="200" pathLength="360" stroke-dasharray="4.45 360" transform="rotate(318.35)"/>
<path class="p" d="M200 0H215" transform="rotate(318.35)"/>
<g class="lp" transform="rotate(322.8)"><path d="M200 0H254.8"/><circle class="d" cx="254.8" r="3.4"/></g>
<circle class="p a" r="215" pathLength="360" stroke-dasharray="3.9 360" transform="rotate(316.4)"/>
<path class="p" d="M215 0H225" transform="rotate(316.4)"/>
<g class="p" transform="rotate(320.3)"><path d="M215 0H247.1"/><circle class="d" cx="247.1" r="3.4"/></g>
<circle class="p a" r="225" pathLength="360" stroke-dasharray="2.4 360" transform="rotate(315.2)"/>
<g class="p" transform="rotate(315.2)"><path d="M225 0H246.8"/><circle class="d" cx="246.8" r="3.4"/></g>
<g class="p" transform="rotate(317.6)"><path d="M225 0H249.2"/><circle class="d" cx="249.2" r="3.4"/></g>
<circle class="p a" r="200" pathLength="360" stroke-dasharray="2.6 360" transform="rotate(325.3)"/>
<g class="p" transform="rotate(325.3)"><path d="M200 0H217.8"/><circle class="d" cx="217.8" r="3.4"/></g>
<g class="p" transform="rotate(327.9)"><path d="M200 0H222"/><circle class="d" cx="222" r="3.4"/></g>
<circle class="p a" r="135" pathLength="360" stroke-dasharray="10.15 360" transform="rotate(333.6)"/>
<path class="p" d="M135 0H183" transform="rotate(333.6)"/>
<path class="p" d="M135 0H160" transform="rotate(343.75)"/>
<circle class="p a" r="183" pathLength="360" stroke-dasharray="3.95 360" transform="rotate(331.65)"/>
<path class="p" d="M183 0H222" transform="rotate(331.65)"/>
<g class="p" transform="rotate(335.6)"><path d="M183 0H227.3"/><circle class="d" cx="227.3" r="3.4"/></g>
<circle class="p a" r="222" pathLength="360" stroke-dasharray="2.7 360" transform="rotate(330.3)"/>
<g class="p" transform="rotate(330.3)"><path d="M222 0H256.6"/><circle class="d" cx="256.6" r="3.4"/></g>
<g class="p" transform="rotate(333)"><path d="M222 0H264.8"/><circle class="d" cx="264.8" r="3.4"/></g>
<circle class="p a" r="160" pathLength="360" stroke-dasharray="4.5 360" transform="rotate(341.5)"/>
<path class="p" d="M160 0H170" transform="rotate(341.5)"/>
<g class="p" transform="rotate(346)"><path d="M160 0H190.6"/><circle class="d" cx="190.6" r="3.4"/></g>
<circle class="p a" r="170" pathLength="360" stroke-dasharray="3.95 360" transform="rotate(339.55)"/>
<path class="p" d="M170 0H178" transform="rotate(339.55)"/>
<g class="p" transform="rotate(343.5)"><path d="M170 0H207.6"/><circle class="d" cx="207.6" r="3.4"/></g>
<circle class="p a" r="178" pathLength="360" stroke-dasharray="2.5 360" transform="rotate(338.3)"/>
<g class="p" transform="rotate(338.3)"><path d="M178 0H197"/><circle class="d" cx="197" r="3.4"/></g>
<g class="p" transform="rotate(340.8)"><path d="M178 0H203.4"/><circle class="d" cx="203.4" r="3.4"/></g>
</g>
</g>
<g id="scale-bar">
<path d="M288 405H331" stroke="#111" stroke-width="2"/>
<text x="309" y="419" text-anchor="middle" font-family="'Liberation Sans',Arial,sans-serif" font-size="12" fill="#222">0.4</text>
</g>
<text id="glut3-label" x="460" y="560" font-family="'Liberation Sans',Arial,sans-serif" font-size="12" fill="#111">*GLUT3</text>
<g id="bracket" fill="none" stroke="#111" stroke-width="2">
<path d="M499 465L526 473A143 143 0 0 1 397 647L378 628"/>
<path d="M521 547H567"/>
</g>
<g id="alignment">
<rect x="769.5" y="440" width="42.5" height="226" fill="#aad480"/>
<text class="nm c1" x="657" y="450" text-anchor="end">H. sapiens</text><text class="nm c1" x="662" y="450">GLUT3</text>
<text class="sq" x="708" y="450">RQPIIISIVL<tspan class="rd">QLS</tspan><tspan class="bu">QQLS</tspan>GI---------</text><text class="nu" x="888" y="450">285</text>
<text class="nm c1" x="657" y="462.6" text-anchor="end">H. sapiens</text><text class="nm c1" x="662" y="462.6">GLUT14</text>
<text class="sq" x="708" y="462.6">--------VL<tspan class="rd">QLS</tspan><tspan class="bu">QQLS</tspan>GINAVFYYST-</text><text class="nu" x="888" y="462.6">317</text>
<text class="nm c1" x="657" y="475.2" text-anchor="end">R. norvegicus</text><text class="nm c1" x="662" y="475.2">GLUT3</text>
<text class="sq" x="708" y="475.2">--------VL<tspan class="rd">QLS</tspan><tspan class="bu">QQFS</tspan>GINAVFYYST-</text><text class="nu" x="888" y="475.2">293</text>
<text class="nm c1" x="657" y="487.9" text-anchor="end">X. laevis</text><text class="nm c1" x="662" y="487.9">GLUT1</text>
<text class="sq" x="708" y="487.9">---IFIAIVL<tspan class="rd">QLS</tspan><tspan class="bu">QQLS</tspan>GINAV------</text><text class="nu" x="888" y="487.9">289</text>
<text class="nm c1" x="657" y="500.5" text-anchor="end">H. sapiens</text><text class="nm c1" x="662" y="500.5">GLUT1</text>
<text class="sq" x="708" y="500.5">--------VL<tspan class="rd">QLS</tspan><tspan class="bu">QQLS</tspan>GINAVFYYST-</text><text class="nu" x="888" y="500.5">295</text>
<text class="nm c1" x="657" y="513.1" text-anchor="end">D. rerio</text><text class="nm c1" x="662" y="513.1">GLUT3A</text>
<text class="sq" x="708" y="513.1">---LFIAIML<tspan class="rd">QLS</tspan><tspan class="bu">QQLS</tspan>GINAV------</text><text class="nu" x="888" y="513.1">290</text>
<text class="nm c1" x="657" y="525.7" text-anchor="end">S. aurata</text><text class="nm c1" x="662" y="525.7">GLUT1</text>
<text class="sq" x="708" y="525.7">---LLIALVL<tspan class="rd">QLS</tspan><tspan class="bu">QQLS</tspan>GINAI------</text><text class="nu" x="888" y="525.7">289</text>
<text class="nm c2" x="657" y="538.3" text-anchor="end">M.amblycephala</text><text class="nm c2" x="662" y="538.3">GLUT4</text>
<text class="sq" x="708" y="538.3">--------LL<tspan class="rd">QLS</tspan><tspan class="bu">QQLS</tspan>GVNAIFYYST-</text><text class="nu" x="888" y="538.3">300</text>
<text class="nm c1" x="657" y="551" text-anchor="end">H. sapiens</text><text class="nm c1" x="662" y="551">GLUT4</text>
<text class="sq" x="708" y="551">--------VL<tspan class="rd">QLS</tspan><tspan class="bu">QQLS</tspan>GINAVFYYST-</text><text class="nu" x="888" y="551">311</text>
<text class="nm c3" x="657" y="563.6" text-anchor="end">H. sapiens</text><text class="nm c3" x="662" y="563.6">GLUT2</text>
<text class="sq" x="708" y="563.6">------ALMLHVA<tspan class="bu">QQFS</tspan>GINGIFYY---</text><text class="nu" x="888" y="563.6">325</text>
<text class="nm c3" x="657" y="576.2" text-anchor="end">M.amblycephala</text><text class="nm c3" x="662" y="576.2">GLUT2</text>
<text class="sq" x="708" y="576.2">-------LMMHFS<tspan class="bu">QQFS</tspan>GINAIFYYS--</text><text class="nu" x="888" y="576.2">304</text>
<text class="nm c3" x="657" y="588.8" text-anchor="end">R. norvegicus</text><text class="nm c3" x="662" y="588.8">GLUT5</text>
<text class="sq" x="708" y="588.8">-------IVLMAG<tspan class="bu">QQLS</tspan>GVNAIYYYA--</text><text class="nu" x="888" y="588.8">299</text>
<text class="nm c3" x="657" y="601.4" text-anchor="end">H. sapiens</text><text class="nm c3" x="662" y="601.4">GLUT5</text>
<text class="sq" x="708" y="601.4">---LLSIIVLMGG<tspan class="bu">QQLS</tspan>GVNAI------</text><text class="nu" x="888" y="601.4">296</text>
<text class="nm c3" x="657" y="614.1" text-anchor="end">H. sapiens</text><text class="nm c3" x="662" y="614.1">GLUT7</text>
<text class="sq" x="708" y="614.1">---LLSIIVLMAG<tspan class="bu">QQLS</tspan>GINAI------</text><text class="nu" x="888" y="614.1">302</text>
<text class="nm c3" x="657" y="626.7" text-anchor="end">M. musculus</text><text class="nm c3" x="662" y="626.7">GLUT9</text>
<text class="sq" x="708" y="626.7">-------IITMASYQLCGLNAIWFYT--</text><text class="nu" x="888" y="626.7">320</text>
<text class="nm c3" x="657" y="639.3" text-anchor="end">H. sapiens</text><text class="nm c3" x="662" y="639.3">GLUT9</text>
<text class="sq" x="708" y="639.3">-------IVTMACYQLCGLNAIWFYT--</text><text class="nu" x="888" y="639.3">339</text>
<text class="nm c3" x="657" y="651.9" text-anchor="end">H. sapiens</text><text class="nm c3" x="662" y="651.9">GLUT11</text>
<text class="sq" x="708" y="651.9">---VTSLVVLGSAMELCGNDSV------</text><text class="nu" x="888" y="651.9">292</text>
<text class="nm c3" x="649" y="664.5" text-anchor="end">S.mansoniv</text><text class="nm c3" x="673" y="664.5">GTP1</text>
<text class="sq" x="708" y="664.5">---VLIACLIQVL<tspan class="bu">QQLS</tspan>GINAV------</text><text class="nu" x="888" y="664.5">288</text>
</g>
</svg>
